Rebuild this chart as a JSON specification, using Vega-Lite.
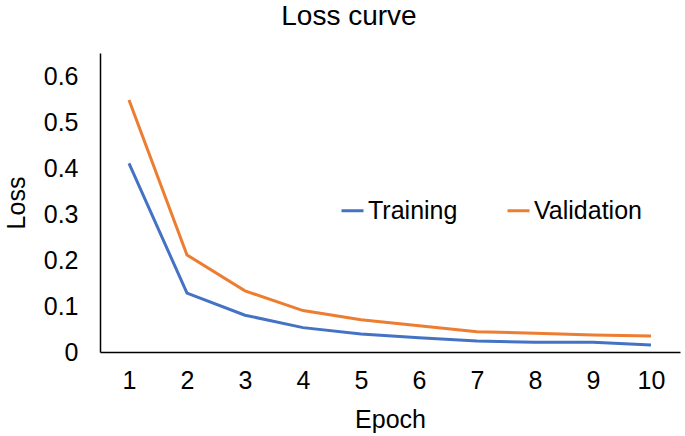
{
  "$schema": "https://vega.github.io/schema/vega-lite/v6.json",
  "width": 580,
  "height": 299,
  "autosize": {"type": "none"},
  "padding": {"left": 100, "top": 53, "right": 5, "bottom": 84},
  "config": {
    "font": "Liberation Sans",
    "view": {"stroke": null}
  },
  "title": {
    "text": "Loss curve",
    "fontSize": 28,
    "fontWeight": "normal",
    "color": "#000000",
    "anchor": "middle",
    "frame": "group",
    "dx": -41,
    "offset": 22
  },
  "data": {
    "values": [
      {"Epoch": "1", "Series": "Training", "Loss": 0.410},
      {"Epoch": "2", "Series": "Training", "Loss": 0.128},
      {"Epoch": "3", "Series": "Training", "Loss": 0.080},
      {"Epoch": "4", "Series": "Training", "Loss": 0.053},
      {"Epoch": "5", "Series": "Training", "Loss": 0.039},
      {"Epoch": "6", "Series": "Training", "Loss": 0.031},
      {"Epoch": "7", "Series": "Training", "Loss": 0.024},
      {"Epoch": "8", "Series": "Training", "Loss": 0.021},
      {"Epoch": "9", "Series": "Training", "Loss": 0.021},
      {"Epoch": "10", "Series": "Training", "Loss": 0.015},
      {"Epoch": "1", "Series": "Validation", "Loss": 0.548},
      {"Epoch": "2", "Series": "Validation", "Loss": 0.211},
      {"Epoch": "3", "Series": "Validation", "Loss": 0.133},
      {"Epoch": "4", "Series": "Validation", "Loss": 0.090},
      {"Epoch": "5", "Series": "Validation", "Loss": 0.070},
      {"Epoch": "6", "Series": "Validation", "Loss": 0.057},
      {"Epoch": "7", "Series": "Validation", "Loss": 0.044},
      {"Epoch": "8", "Series": "Validation", "Loss": 0.041},
      {"Epoch": "9", "Series": "Validation", "Loss": 0.037},
      {"Epoch": "10", "Series": "Validation", "Loss": 0.035}
    ]
  },
  "mark": {"type": "line", "strokeWidth": 3},
  "encoding": {
    "x": {
      "field": "Epoch",
      "type": "ordinal",
      "sort": ["1","2","3","4","5","6","7","8","9","10"],
      "scale": {"type": "point", "padding": 0.5},
      "axis": {
        "title": "Epoch",
        "labelAngle": 0,
        "labelFontSize": 25,
        "labelColor": "#000000",
        "titleFontSize": 25,
        "titleFontWeight": "normal",
        "titleColor": "#000000",
        "titlePadding": 14,
        "labelPadding": 16,
        "ticks": false,
        "grid": false,
        "domainColor": "#000000",
        "domainWidth": 1.5
      }
    },
    "y": {
      "field": "Loss",
      "type": "quantitative",
      "scale": {"domain": [0, 0.65], "nice": false},
      "axis": {
        "title": "Loss",
        "values": [0, 0.1, 0.2, 0.3, 0.4, 0.5, 0.6],
        "labelExpr": "datum.value == 0 ? '0' : format(datum.value, '.1f')",
        "labelFontSize": 25,
        "labelColor": "#000000",
        "labelPadding": 22,
        "titleFontSize": 25,
        "titleFontWeight": "normal",
        "titleColor": "#000000",
        "titlePadding": 14,
        "ticks": false,
        "grid": false,
        "domainColor": "#000000",
        "domainWidth": 1.5
      }
    },
    "color": {
      "field": "Series",
      "type": "nominal",
      "scale": {"domain": ["Training", "Validation"], "range": ["#4472C4", "#ED7D31"]},
      "legend": {
        "title": null,
        "orient": "none",
        "direction": "horizontal",
        "legendX": 240,
        "legendY": 145,
        "symbolType": "stroke",
        "symbolSize": 484,
        "symbolStrokeWidth": 3,
        "labelFontSize": 25,
        "labelColor": "#000000",
        "labelOffset": 3,
        "columnPadding": 43
      }
    }
  }
}
